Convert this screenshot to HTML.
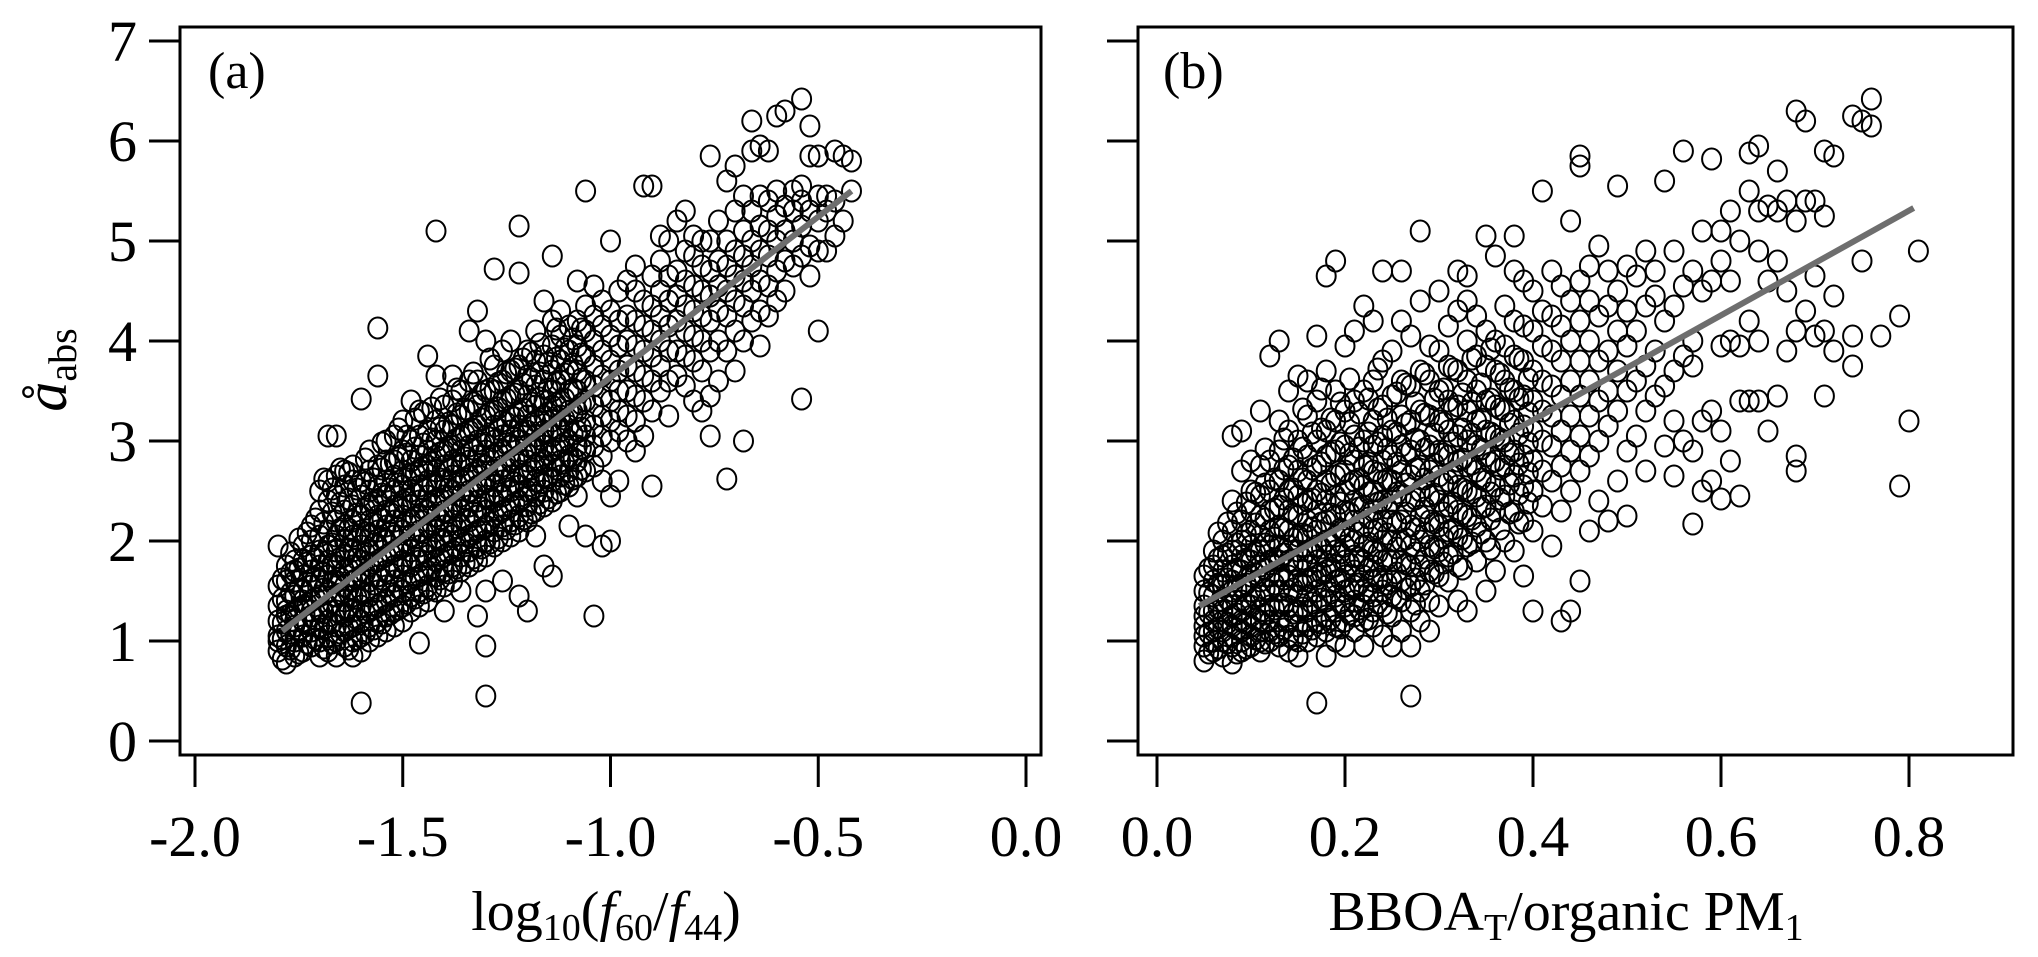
<!DOCTYPE html>
<html><head><meta charset="utf-8"><style>
html,body{margin:0;padding:0;background:#fff;}
svg{display:block;font-family:"Liberation Serif","Times New Roman",serif;}
</style></head><body>
<svg id="chart" width="2038" height="957" viewBox="0 0 2038 957" xmlns="http://www.w3.org/2000/svg">
<g id="panelA"></g>
<g id="panelB"></g>
</svg>
<script>
// ---- data ----
const yTicks = [0,1,2,3,4,5,6,7];
const xTicksA = [-2.0,-1.5,-1.0,-0.5,0.0];
const xTickLabelsA = ["-2.0","-1.5","-1.0","-0.5","0.0"];
const xTicksB = [0.0,0.2,0.4,0.6,0.8];
const xTickLabelsB = ["0.0","0.2","0.4","0.6","0.8"];
const fitA = [[-1.79,1.1],[-0.42,5.5]];
const fitB = [[0.045,1.35],[0.805,5.33]];
const colXA = [-1.80,-1.78,-1.76,-1.74,-1.72,-1.70,-1.68,-1.66,-1.64,-1.62,-1.60,-1.58,-1.56,-1.54,-1.52,-1.50,-1.48,-1.46,-1.44,-1.42,-1.40,-1.38,-1.36,-1.34,-1.32,-1.30,-1.28,-1.26,-1.24,-1.22,-1.20,-1.18,-1.16,-1.14,-1.12,-1.10,-1.08,-1.06,-1.04,-1.02,-1.00,-0.98,-0.96,-0.94,-0.92,-0.90,-0.88,-0.86,-0.84,-0.82,-0.80,-0.78,-0.76,-0.74,-0.72,-0.70,-0.68,-0.66,-0.64,-0.62,-0.60,-0.58,-0.56,-0.54,-0.52,-0.50,-0.48,-0.46,-0.44,-0.42];
const colYA = [
[0.9,1.05,1.2,1.35,1.55,1.95,1.0],
[0.78,0.95,1.1,1.25,1.4,1.6,1.75,1.3],
[0.85,1.0,1.15,1.3,1.45,1.6,1.8,1.7,1.2],
[0.9,1.05,1.2,1.35,1.5,1.65,1.8,1.95,1.4],
[0.95,1.1,1.25,1.4,1.55,1.7,1.85,2.0,2.15,1.3],
[0.85,1.0,1.15,1.3,1.45,1.6,1.75,1.9,2.05,2.3,2.5],
[0.9,1.05,1.2,1.35,1.5,1.65,1.8,1.95,2.1,2.4,2.6,3.05],
[0.85,1.0,1.15,1.3,1.45,1.6,1.75,1.9,2.05,2.2,2.45,2.65,3.05],
[0.95,1.1,1.25,1.4,1.55,1.7,1.85,2.0,2.15,2.3,2.55,2.7],
[0.85,1.0,1.15,1.3,1.45,1.6,1.75,1.9,2.05,2.2,2.35,2.6,2.75],
[0.38,0.9,1.05,1.2,1.35,1.5,1.65,1.8,1.95,2.1,2.25,2.45,2.6,3.42],
[1.0,1.15,1.3,1.45,1.6,1.75,1.9,2.05,2.2,2.35,2.5,2.7,2.9],
[1.05,1.2,1.35,1.5,1.65,1.8,1.95,2.1,2.25,2.4,2.55,2.75,4.13,3.65],
[1.1,1.25,1.4,1.55,1.7,1.85,2.0,2.15,2.3,2.45,2.6,2.8,3.0],
[1.15,1.3,1.45,1.6,1.75,1.9,2.05,2.2,2.35,2.5,2.65,2.8,3.05],
[1.2,1.35,1.5,1.65,1.8,1.95,2.1,2.25,2.4,2.55,2.7,2.9,3.2],
[1.3,1.45,1.6,1.75,1.9,2.05,2.2,2.35,2.5,2.65,2.8,3.0,3.4],
[0.98,1.35,1.5,1.65,1.8,1.95,2.1,2.25,2.4,2.55,2.7,2.85,3.05,3.3],
[1.4,1.55,1.7,1.85,2.0,2.15,2.3,2.45,2.6,2.75,2.9,3.1,3.85],
[1.5,1.65,1.8,1.95,2.1,2.25,2.4,2.55,2.7,2.85,3.0,3.2,3.65,5.1],
[1.3,1.55,1.7,1.85,2.0,2.15,2.3,2.45,2.6,2.75,2.9,3.1,3.35],
[1.6,1.75,1.9,2.05,2.2,2.35,2.5,2.65,2.8,2.95,3.15,3.4,3.65],
[1.5,1.7,1.85,2.0,2.15,2.3,2.45,2.6,2.75,2.9,3.05,3.25,3.5],
[1.75,1.9,2.05,2.2,2.35,2.5,2.65,2.8,2.95,3.1,3.3,3.6,4.1],
[1.25,1.8,1.95,2.1,2.25,2.4,2.55,2.7,2.85,3.0,3.15,3.35,3.6,4.3],
[0.45,0.95,1.5,1.85,2.0,2.15,2.3,2.45,2.6,2.75,2.9,3.05,3.25,3.5,4.0],
[1.95,2.1,2.25,2.4,2.55,2.7,2.85,3.0,3.15,3.3,3.5,3.75,4.72],
[1.6,2.0,2.15,2.3,2.45,2.6,2.75,2.9,3.05,3.2,3.4,3.6,3.9],
[2.05,2.2,2.35,2.5,2.65,2.8,2.95,3.1,3.25,3.45,3.7,4.0],
[1.45,2.1,2.25,2.4,2.55,2.7,2.85,3.0,3.15,3.3,3.5,3.75,5.15,4.68],
[1.3,2.2,2.35,2.5,2.65,2.8,2.95,3.1,3.25,3.45,3.65,3.9],
[2.05,2.3,2.45,2.6,2.75,2.9,3.05,3.2,3.35,3.55,3.8,4.1],
[1.75,2.35,2.5,2.65,2.8,2.95,3.1,3.25,3.4,3.6,3.85,4.4],
[1.65,2.4,2.6,2.75,2.9,3.05,3.2,3.35,3.5,3.7,3.95,4.2,4.85],
[2.5,2.65,2.8,2.95,3.1,3.25,3.4,3.6,3.8,4.05,4.3],
[2.15,2.55,2.7,2.85,3.0,3.15,3.3,3.5,3.7,3.9,4.15],
[2.45,2.65,2.8,2.95,3.1,3.3,3.5,3.7,3.95,4.2,4.6],
[2.05,2.7,2.9,3.05,3.2,3.4,3.6,3.85,4.1,4.35,5.5],
[1.25,2.75,2.95,3.15,3.35,3.55,3.75,4.0,4.25,4.55],
[1.95,2.6,2.85,3.05,3.25,3.45,3.65,3.9,4.15,4.4],
[2.0,2.45,3.0,3.2,3.4,3.6,3.8,4.05,4.3,5.0],
[2.6,3.1,3.3,3.5,3.7,3.95,4.2,4.5],
[3.0,3.25,3.5,3.75,4.0,4.25,4.6],
[2.9,3.2,3.45,3.7,3.95,4.2,4.5,4.75],
[3.05,3.4,3.65,3.9,4.15,4.4,5.55],
[2.55,3.3,3.6,3.85,4.1,4.35,4.65,5.55],
[3.5,3.75,4.0,4.25,4.5,4.8,5.05],
[3.25,3.6,3.9,4.15,4.4,4.65,5.0],
[3.65,3.9,4.2,4.45,4.7,5.2],
[3.55,3.85,4.1,4.35,4.6,4.9,5.3],
[3.4,3.8,4.05,4.3,4.55,4.85,5.05],
[3.3,3.7,4.0,4.25,4.5,4.75,5.0],
[3.05,3.45,3.9,4.2,4.45,4.7,5.0,5.85],
[3.6,4.0,4.3,4.55,4.8,5.2],
[2.62,3.9,4.25,4.5,4.75,5.0,5.6],
[3.7,4.1,4.4,4.65,4.9,5.3,5.75],
[3.0,4.0,4.35,4.6,4.85,5.1,5.45],
[4.2,4.5,4.75,5.0,5.3,6.2,5.9],
[3.95,4.3,4.6,4.9,5.15,5.45,5.95],
[4.25,4.55,4.85,5.1,5.4,5.9],
[4.4,4.7,5.0,5.25,5.5,6.25],
[4.5,4.8,5.1,5.35,6.3],
[4.75,5.0,5.3,5.5],
[3.42,4.85,5.15,5.4,6.42,5.55],
[4.65,4.95,5.3,5.85,6.15],
[4.1,4.9,5.2,5.45,5.85],
[4.9,5.3,5.45],
[5.05,5.4,5.9],
[5.2,5.85],
[5.5,5.8]];
const colXA2 = [-1.79,-1.77,-1.75,-1.73,-1.71,-1.69,-1.67,-1.65,-1.63,-1.61,-1.59,-1.57,-1.55,-1.53,-1.51,-1.49,-1.47,-1.45,-1.43,-1.41,-1.39,-1.37,-1.35,-1.33,-1.31,-1.29,-1.27,-1.25,-1.23,-1.21,-1.19,-1.17,-1.15,-1.13,-1.11,-1.09,-1.07];
const colYA2 = [
[0.82,1.02,1.18,1.42,1.62],
[0.92,1.08,1.27,1.48,1.68,1.88],
[0.88,1.12,1.33,1.52,1.72,2.02],
[0.98,1.17,1.37,1.58,1.78,2.08],
[1.02,1.22,1.43,1.63,1.82,2.22],
[0.93,1.12,1.28,1.52,1.68,1.88,2.18,2.62],
[0.98,1.18,1.38,1.58,1.77,1.97,2.28,2.52],
[1.08,1.27,1.47,1.63,1.83,2.12,2.38,2.72],
[0.92,1.13,1.32,1.52,1.72,1.92,2.12,2.42,2.68],
[1.02,1.22,1.43,1.62,1.82,2.02,2.27,2.52],
[1.08,1.28,1.48,1.68,1.88,2.08,2.32,2.58,2.82],
[1.12,1.32,1.57,1.78,1.97,2.18,2.38,2.62],
[1.18,1.38,1.62,1.83,2.03,2.22,2.47,2.72,2.98],
[1.27,1.47,1.68,1.88,2.08,2.28,2.52,2.77],
[1.32,1.53,1.73,1.93,2.13,2.33,2.57,2.83,3.12],
[1.38,1.58,1.78,1.98,2.18,2.42,2.62,2.87,3.05],
[1.43,1.63,1.83,2.03,2.23,2.47,2.68,2.93,3.22],
[1.48,1.68,1.88,2.08,2.32,2.52,2.73,2.97,3.28],
[1.52,1.73,1.93,2.17,2.37,2.57,2.78,3.02,3.33],
[1.62,1.82,2.02,2.22,2.42,2.62,2.88,3.13,3.42],
[1.68,1.88,2.08,2.28,2.52,2.72,2.93,3.18],
[1.73,1.93,2.13,2.37,2.57,2.78,3.02,3.27,3.52],
[1.78,1.98,2.22,2.42,2.62,2.83,3.07,3.32],
[1.83,2.07,2.28,2.48,2.68,2.92,3.12,3.38,3.68],
[1.93,2.12,2.33,2.57,2.77,2.97,3.22,3.47],
[1.98,2.18,2.42,2.62,2.82,3.03,3.28,3.52,3.82],
[2.03,2.27,2.47,2.68,2.88,3.12,3.33,3.58],
[2.12,2.32,2.52,2.73,2.97,3.18,3.42,3.68],
[2.17,2.38,2.58,2.82,3.03,3.23,3.47,3.72],
[2.22,2.43,2.67,2.87,3.08,3.32,3.57,3.82],
[2.28,2.52,2.72,2.93,3.17,3.38,3.62,3.88],
[2.38,2.58,2.78,3.02,3.22,3.43,3.68,3.97],
[2.43,2.63,2.87,3.08,3.28,3.52,3.78],
[2.48,2.72,2.92,3.13,3.37,3.58,3.83,4.12],
[2.57,2.78,2.98,3.22,3.42,3.67,3.92],
[2.62,2.83,3.07,3.28,3.52,3.77,4.02],
[2.72,2.93,3.13,3.37,3.62,3.87,4.12]];
const colXB = [0.05,0.06,0.07,0.08,0.09,0.10,0.11,0.12,0.13,0.14,0.15,0.16,0.17,0.18,0.19,0.20,0.21,0.22,0.23,0.24,0.25,0.26,0.27,0.28,0.29,0.30,0.31,0.32,0.33,0.34,0.35,0.36,0.37,0.38,0.39,0.40,0.41,0.42,0.43,0.44,0.45,0.46,0.47,0.48,0.49,0.50,0.51,0.52,0.53,0.54,0.55,0.56,0.57,0.58,0.59,0.60,0.61,0.62,0.63,0.64,0.65,0.66,0.67,0.68,0.69,0.70,0.71,0.72,0.74,0.75,0.76,0.77,0.79,0.80,0.81];
const colYB = [
[0.8,0.95,1.05,1.15,1.25,1.35,1.5,1.65],
[0.9,1.0,1.1,1.2,1.3,1.45,1.6,1.75,1.9],
[0.85,1.0,1.1,1.2,1.3,1.4,1.55,1.7,1.85,2.0],
[0.78,0.95,1.05,1.15,1.25,1.35,1.5,1.6,1.75,1.9,2.1,2.4,3.05],
[0.9,1.0,1.1,1.2,1.3,1.4,1.55,1.7,1.85,2.0,2.2,2.7,3.1],
[0.95,1.05,1.15,1.25,1.35,1.5,1.65,1.8,1.95,2.1,2.3,2.5,2.8],
[0.9,1.0,1.1,1.2,1.3,1.45,1.6,1.75,1.9,2.05,2.25,2.45,2.75,3.3],
[1.0,1.1,1.2,1.35,1.5,1.65,1.8,1.95,2.1,2.3,2.5,2.8,3.85],
[0.95,1.05,1.2,1.35,1.5,1.65,1.8,1.95,2.15,2.35,2.6,2.9,3.2,4.0],
[0.9,1.05,1.2,1.35,1.5,1.65,1.8,1.95,2.1,2.3,2.5,2.75,3.1,3.5],
[0.85,1.0,1.15,1.3,1.45,1.6,1.75,1.9,2.05,2.25,2.45,2.7,3.0,3.65],
[1.0,1.15,1.3,1.45,1.6,1.75,1.9,2.05,2.2,2.4,2.6,2.85,3.25,3.6],
[0.38,1.05,1.2,1.35,1.5,1.65,1.8,1.95,2.1,2.3,2.5,2.75,3.0,3.4,4.05],
[0.85,1.1,1.25,1.4,1.55,1.7,1.85,2.0,2.2,2.4,2.6,2.85,3.1,3.7,4.65],
[1.0,1.15,1.3,1.45,1.6,1.75,1.9,2.05,2.25,2.45,2.65,2.9,3.2,3.5,4.8],
[0.95,1.2,1.35,1.5,1.65,1.8,1.95,2.1,2.3,2.5,2.7,2.95,3.3,3.95],
[1.1,1.25,1.4,1.55,1.7,1.85,2.0,2.2,2.4,2.6,2.8,3.05,3.4,4.1],
[0.95,1.2,1.35,1.5,1.65,1.8,1.95,2.15,2.35,2.55,2.75,3.0,3.5,4.35],
[1.15,1.3,1.45,1.6,1.75,1.9,2.1,2.3,2.5,2.7,2.95,3.2,3.6,4.2],
[1.05,1.35,1.5,1.65,1.8,2.0,2.2,2.4,2.6,2.8,3.05,3.35,3.8,4.7],
[0.95,1.25,1.45,1.6,1.8,2.0,2.2,2.4,2.6,2.85,3.1,3.45,3.9],
[1.1,1.4,1.6,1.8,2.0,2.2,2.45,2.7,2.95,3.25,3.6,4.2,4.7],
[0.45,0.95,1.3,1.55,1.75,1.95,2.15,2.4,2.65,2.9,3.2,3.55,4.05],
[1.2,1.5,1.75,2.0,2.25,2.5,2.75,3.0,3.3,3.7,5.1,4.4],
[1.1,1.4,1.7,1.95,2.2,2.45,2.7,2.95,3.25,3.6,3.95],
[1.35,1.65,1.9,2.15,2.4,2.65,2.9,3.2,3.5,3.9,4.5],
[1.6,1.85,2.1,2.35,2.6,2.85,3.1,3.4,3.75,4.15],
[1.4,1.75,2.05,2.3,2.55,2.8,3.05,3.35,3.7,4.3,4.7],
[1.3,1.95,2.25,2.5,2.75,3.0,3.3,3.6,4.0,4.4,4.65],
[1.8,2.15,2.45,2.7,2.95,3.2,3.5,3.85,4.25],
[1.5,2.0,2.35,2.6,2.85,3.1,3.4,3.75,4.1,5.05],
[1.7,2.3,2.55,2.8,3.05,3.35,3.7,4.0,4.85],
[2.0,2.45,2.75,3.0,3.3,3.6,3.95,4.35],
[1.9,2.3,2.65,2.9,3.2,3.5,3.85,4.2,5.05,4.7],
[1.65,2.2,2.55,2.85,3.15,3.45,3.8,4.15,4.6],
[1.3,2.1,2.5,2.8,3.1,3.4,3.7,4.1,4.5],
[2.35,2.7,3.0,3.3,3.6,3.95,4.3,5.5],
[1.95,2.6,2.95,3.25,3.55,3.9,4.25,4.7],
[1.2,2.3,2.75,3.1,3.45,3.8,4.15,4.55],
[1.3,2.5,2.9,3.25,3.6,4.0,4.4,5.2],
[1.6,2.7,3.05,3.45,3.8,4.2,4.6,5.75,5.85],
[2.1,2.85,3.25,3.6,4.0,4.4,4.75],
[2.4,3.0,3.4,3.8,4.25,4.95],
[2.2,3.15,3.5,3.9,4.35,4.7],
[2.6,3.3,3.7,4.1,4.5,5.55],
[2.25,2.9,3.5,3.95,4.3,4.75],
[3.05,3.6,4.1,4.65],
[2.7,3.3,3.75,4.35,4.9],
[3.45,3.9,4.45,4.7],
[2.95,3.55,4.2,5.6],
[2.65,3.7,4.35,4.9,3.2],
[3.0,3.85,4.55,5.9],
[2.17,2.9,4.0,4.7,3.75],
[2.5,3.2,4.5,5.1],
[2.6,3.3,4.6,5.82],
[2.42,3.1,3.95,4.8,5.1],
[2.8,4.0,4.6,5.3],
[2.45,3.4,3.95,5.0],
[3.4,4.2,5.88,5.5],
[3.4,4.0,4.9,5.95,5.3],
[3.1,4.6,5.35],
[3.45,4.8,5.3,5.7],
[3.9,4.5,5.4],
[2.7,2.85,4.1,5.2,6.3],
[4.3,5.4,6.2],
[4.05,5.4,4.65],
[3.45,4.1,5.9,5.25],
[3.9,5.85,4.45],
[3.75,4.05,6.25],
[4.8,6.2],
[6.42,6.15],
[4.05],
[2.55,4.25],
[3.2],
[4.9]];
const colXB2 = [0.055,0.065,0.075,0.085,0.095,0.105,0.115,0.125,0.135,0.145,0.155,0.165,0.175,0.185,0.195,0.205,0.215,0.225,0.235,0.245,0.255,0.265,0.275,0.285,0.295,0.305,0.315,0.325,0.335,0.345,0.355,0.365,0.375,0.385,0.395];
const colYB2 = [
[0.88,1.08,1.28,1.48,1.72],
[0.93,1.13,1.33,1.57,1.82,2.08],
[0.98,1.18,1.42,1.62,1.87,2.18],
[0.88,1.12,1.27,1.52,1.72,1.97,2.28],
[0.93,1.18,1.37,1.57,1.82,2.07,2.38],
[1.02,1.22,1.43,1.67,1.88,2.17,2.48],
[0.98,1.27,1.52,1.72,1.97,2.22,2.57,2.92],
[1.08,1.32,1.57,1.82,2.03,2.32,2.62],
[1.12,1.37,1.62,1.87,2.12,2.42,2.72,3.02],
[1.02,1.28,1.52,1.77,2.02,2.27,2.52,2.82],
[1.08,1.33,1.57,1.82,2.07,2.37,2.62,2.93,3.32],
[1.12,1.38,1.63,1.88,2.13,2.42,2.72,3.08],
[1.18,1.42,1.68,1.93,2.18,2.47,2.78,3.12,3.52],
[1.22,1.48,1.73,1.97,2.27,2.57,2.88,3.22],
[1.13,1.38,1.62,1.88,2.12,2.38,2.67,2.98,3.38],
[1.27,1.52,1.77,2.02,2.28,2.57,2.87,3.18,3.62],
[1.32,1.57,1.83,2.08,2.33,2.62,2.93,3.28],
[1.22,1.48,1.72,1.98,2.23,2.48,2.78,3.08,3.42],
[1.38,1.62,1.88,2.12,2.38,2.68,2.98,3.32,3.72],
[1.28,1.57,1.82,2.07,2.33,2.62,2.92,3.22],
[1.43,1.68,1.93,2.18,2.48,2.78,3.08,3.48],
[1.52,1.77,2.02,2.28,2.57,2.87,3.17,3.57],
[1.37,1.62,1.88,2.12,2.42,2.72,3.02,3.38],
[1.57,1.83,2.08,2.33,2.62,2.92,3.27,3.67],
[1.68,1.93,2.18,2.47,2.77,3.07,3.42],
[1.78,2.03,2.28,2.57,2.87,3.18,3.52],
[1.88,2.12,2.38,2.68,2.98,3.32,3.72],
[1.72,2.02,2.27,2.52,2.82,3.12,3.47],
[1.98,2.22,2.48,2.77,3.07,3.38,3.82],
[2.08,2.33,2.62,2.92,3.22,3.57],
[1.92,2.22,2.48,2.78,3.08,3.42,3.92],
[2.12,2.42,2.72,3.02,3.32,3.67],
[2.28,2.57,2.87,3.17,3.52],
[2.18,2.47,2.77,3.07,3.42,3.82],
[2.38,2.68,2.98,3.28,3.62]];

// ---- layout ----
const NS = "http://www.w3.org/2000/svg";
const Y0 = 741, YU = 100;
function yPx(v){ return Y0 - v*YU; }
function xPxA(v){ return 195 + (v+2)*415.5; }
function xPxB(v){ return 1157 + v*940; }
function mk(tag, attrs, parent){
  const e = document.createElementNS(NS, tag);
  for (const k in attrs) e.setAttribute(k, attrs[k]);
  parent.appendChild(e);
  return e;
}

function drawPanel(g, opt){
  const pts = mk('g', {fill:'none', stroke:'#000', 'stroke-width':'2'}, g);
  
  
  opt.sets.forEach(set => {
    set[0].forEach((xv, i) => {
      set[1][i].forEach(yv => {
        const c = mk('ellipse', {cx:opt.xPx(xv).toFixed(1), cy:yPx(yv).toFixed(1), rx:9.5, ry:10.5}, pts);
        
        
      });
    });
  });
  const ln = mk('line', {x1:opt.xPx(opt.fit[0][0]), y1:yPx(opt.fit[0][1]), x2:opt.xPx(opt.fit[1][0]), y2:yPx(opt.fit[1][1]), stroke:'#6e6e6e', 'stroke-width':6}, g);
  
  
  const fr = mk('rect', {x:opt.fx0, y:27, width:opt.fx1-opt.fx0, height:755-27, fill:'none', stroke:'#000', 'stroke-width':3}, g);
  
  
  yTicks.forEach(t => {
    const tk = mk('line', {x1:opt.fx0-31, x2:opt.fx0, y1:yPx(t), y2:yPx(t), stroke:'#000', 'stroke-width':3}, g);
    
    
    if (opt.yLabels){
      const tx = mk('text', {x:opt.fx0-43, y:yPx(t)+20, 'text-anchor':'end', 'font-size':58}, g);
      tx.textContent = String(t);
      
      
    }
  });
  opt.xTicks.forEach((t, i) => {
    const px = opt.xPx(t);
    const tk = mk('line', {x1:px, x2:px, y1:755, y2:787, stroke:'#000', 'stroke-width':3}, g);
    
    
    const tx = mk('text', {x:px, y:856, 'text-anchor':'middle', 'font-size':58}, g);
    tx.textContent = opt.xTickLabels[i];
    
    
  });
}

drawPanel(document.getElementById('panelA'), {sets:[[colXA,colYA],[colXA2,colYA2]], xPx:xPxA, fit:fitA, fx0:180, fx1:1041, xTicks:xTicksA, xTickLabels:xTickLabelsA, yLabels:true});
drawPanel(document.getElementById('panelB'), {sets:[[colXB,colYB],[colXB2,colYB2]], xPx:xPxB, fit:fitB, fx0:1138, fx1:2013, xTicks:xTicksB, xTickLabels:xTickLabelsB, yLabels:false});
</script>
<script>
(function(){
  const svg = document.getElementById('chart');
  const NS = "http://www.w3.org/2000/svg";
  const frag = `
  <text x="208" y="88" font-size="52">(a)</text>
  <text x="1163" y="88" font-size="52">(b)</text>
  <text x="606" y="930" text-anchor="middle" font-size="56">log<tspan font-size="38" dy="10">10</tspan><tspan dy="-10">(</tspan><tspan font-style="italic">f</tspan><tspan font-size="38" dy="10">60</tspan><tspan dy="-10">/</tspan><tspan font-style="italic">f</tspan><tspan font-size="38" dy="10">44</tspan><tspan dy="-10">)</tspan></text>
  <text x="1566" y="930" text-anchor="middle" font-size="56">BBOA<tspan font-size="38" dy="10">T</tspan><tspan dy="-10">/organic PM</tspan><tspan font-size="38" dy="10">1</tspan></text>
  <text x="0" y="0" transform="translate(66,370) rotate(-90)" text-anchor="middle" font-size="60"><tspan font-style="italic">å</tspan><tspan font-size="40" dy="10">abs</tspan></text>`;
  const tmp = document.createElementNS(NS,'g');
  tmp.innerHTML = frag;
  
  
  svg.appendChild(tmp);
})();
</script>
</body></html>
